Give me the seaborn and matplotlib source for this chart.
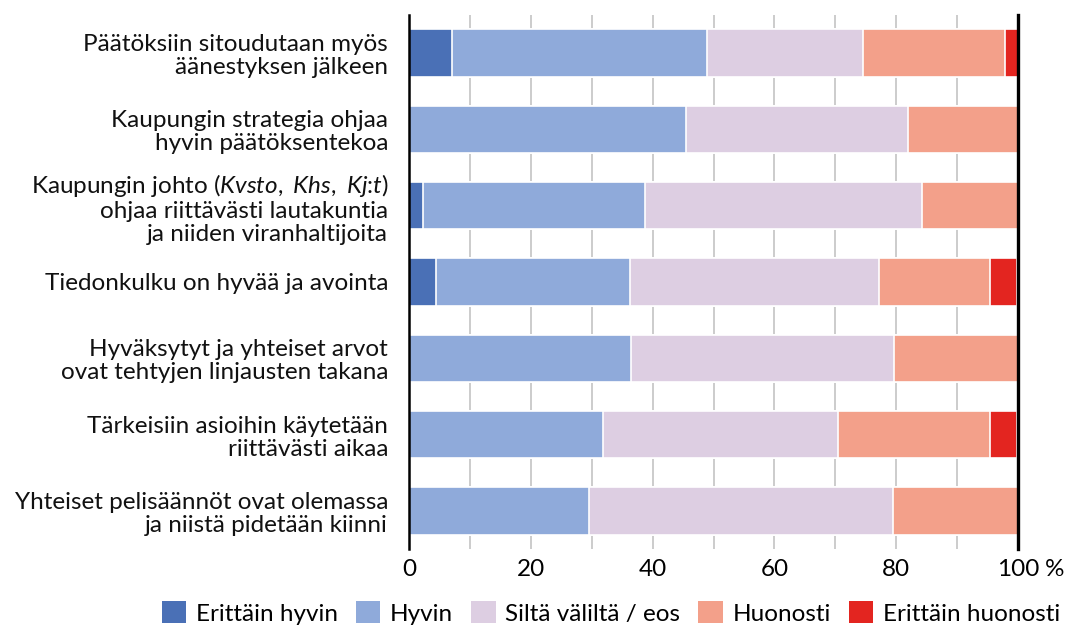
import numpy as np
import pandas as pd
import seaborn as sns
import matplotlib.pyplot as plt
from matplotlib.patches import Patch

# statements (top to bottom)
statements = [
    'Päätöksiin sitoudutaan myös\näänestyksen jälkeen',
    'Kaupungin strategia ohjaa\nhyvin päätöksentekoa',
    'Kaupungin johto ($\\it{Kvsto,\\ Khs,\\ Kj}$:$\\it{t}$)\nohjaa riittävästi lautakuntia\nja niiden viranhaltijoita',
    'Tiedonkulku on hyvää ja avointa',
    'Hyväksytyt ja yhteiset arvot\novat tehtyjen linjausten takana',
    'Tärkeisiin asioihin käytetään\nriittävästi aikaa',
    'Yhteiset pelisäännöt ovat olemassa\nja niistä pidetään kiinni',
]
answers = ['Erittäin hyvin', 'Hyvin', 'Siltä väliltä / eos', 'Huonosti', 'Erittäin huonosti']
erittain_hyvin = [7.0, 0.0, 2.3, 4.5, 0.0, 0.0, 0.0]
hyvin = [41.9, 45.5, 36.4, 31.8, 36.4, 31.8, 29.5]
silta_valilta = [25.6, 36.4, 45.5, 40.9, 43.2, 38.6, 50.0]
huonosti = [23.3, 18.2, 15.9, 18.2, 20.5, 25.0, 20.5]
erittain_huonosti = [2.3, 0.0, 0.0, 4.5, 0.0, 4.5, 0.0]
colors = ['#4A70B6', '#8FAADA', '#DDCEE2', '#F3A08A', '#E32520']
xticks = [0, 20, 40, 60, 80, 100]

plt.rcParams['font.family'] = 'Lato'
plt.rcParams['mathtext.fontset'] = 'custom'
plt.rcParams['mathtext.rm'] = 'Lato'
plt.rcParams['mathtext.it'] = 'Lato:italic'

FS = 17.5

df = pd.DataFrame({'kysymys': statements})
series = [erittain_hyvin, hyvin, silta_valilta, huonosti, erittain_huonosti]
cum = np.cumsum(np.array(series), axis=0)

fig = plt.figure(figsize=(10.7, 6.26), dpi=100)
ax = fig.add_axes([409/1070, 77/626, (1018-409)/1070, (549-15)/626])

# draw cumulative bars from the right-most category backward
for i in range(len(answers)-1, -1, -1):
    df['val'] = cum[i]
    sns.barplot(data=df, x='val', y='kysymys', color=colors[i], saturation=1,
                width=0.62, edgecolor='white', linewidth=1.2, ax=ax, zorder=3)

ax.set_xlim(0, 100)
ax.set_ylim(6.5, -0.5)
ax.set_xticks(xticks)
ax.set_xticks(np.arange(10, 100, 10), minor=True)
ax.set_xticklabels([str(t) for t in xticks], fontsize=FS)
ax.grid(axis='x', which='both', color='#C4C4C4', linewidth=1.2, zorder=0)
ax.set_axisbelow(True)
ax.tick_params(axis='both', which='both', length=0)
ax.tick_params(axis='y', pad=15, labelsize=FS, labelcolor='#111111')
ax.tick_params(axis='x', pad=7)
for lab in ax.get_yticklabels():
    lab.set_linespacing(1.12)
ax.set_xlabel('')
ax.set_ylabel('')
for s in ['top', 'bottom']:
    ax.spines[s].set_visible(False)
ax.spines['left'].set_color('black')
ax.spines['left'].set_linewidth(1.8)
ax.spines['right'].set_color('black')
ax.spines['right'].set_linewidth(2.4)
ax.spines['right'].set_visible(True)
ax.spines['left'].set_zorder(5)
ax.spines['right'].set_zorder(5)

ax.annotate('%', xy=(100, 0), xycoords=('data', 'axes fraction'),
            xytext=(19, -7), textcoords='offset points', fontsize=FS,
            ha='left', va='top', annotation_clip=False)

handles = [Patch(facecolor=c, edgecolor='none', label=a) for a, c in zip(answers, colors)]
fig.legend(handles=handles, loc='center', bbox_to_anchor=(611/1070, 1-613/626), ncol=5,
           frameon=False, fontsize=FS, handlelength=1.0, handleheight=1.0,
           handletextpad=0.4, columnspacing=0.75, borderpad=0)

fig.savefig('out.png', dpi=100)
